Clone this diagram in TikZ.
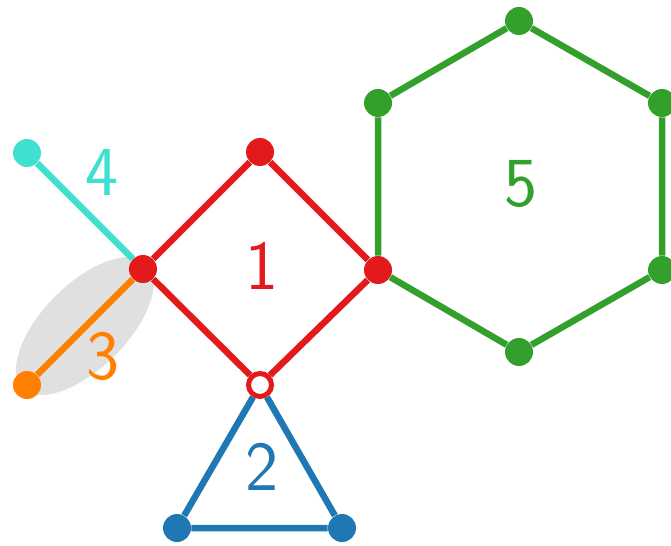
\documentclass[tikz,border=0pt]{standalone}
\usepackage{xcolor}
\usepackage{tikz}
\usetikzlibrary{positioning}

\definecolor{cred}{HTML}{E31A1C}
\definecolor{cblue}{HTML}{1F78B4}
\definecolor{cgreen}{HTML}{33A02C}
\definecolor{corange}{HTML}{FF7F00}
\definecolor{ccyan}{HTML}{40E0D0}
\definecolor{cshade}{HTML}{E0E0E0}

\begin{document}
\begin{tikzpicture}[
    x=0.02cm, y=-0.02cm,
    vtx/.style={circle, fill=#1, inner sep=0pt, minimum size=0.56cm},
    open/.style={circle, draw=#1, fill=white, line width=0.1cm, inner sep=0pt, minimum size=0.46cm},
    link/.style={draw=#1, line width=0.13cm},
    lbl/.style={text=#1, font=\fontsize{40}{48}\selectfont\sffamily}
]
\useasboundingbox (0,0) rectangle (671,546);

% Hyperedge 3 shade
\fill[cshade, rotate around={45:(85,326)}] (85,326) ellipse [x radius=1.76cm, y radius=0.84cm];

% Cycle 1 (square)
\node[vtx=cred] (top) at (260,152) {};
\node[vtx=cred] (left) at (143,269) {};
\node[vtx=cred] (right) at (378,270) {};
\node[open=cred] (bot) at (260,385) {};

% Cycle 2 (triangle)
\node[vtx=cblue] (tl) at (177,528) {};
\node[vtx=cblue] (tr) at (342,528) {};

% Pendant edges 3 and 4
\node[vtx=corange] (pend3) at (27,385) {};
\node[vtx=ccyan] (pend4) at (27,153) {};

% Cycle 5 (hexagon)
\node[vtx=cgreen] (h1) at (378,103) {};
\node[vtx=cgreen] (h2) at (519,21) {};
\node[vtx=cgreen] (h3) at (662,103) {};
\node[vtx=cgreen] (h4) at (662,270) {};
\node[vtx=cgreen] (h5) at (519,352) {};

% Edges
\draw[link=cred] (top) -- (right) -- (bot) -- (left) -- (top);
\draw[link=cblue] (bot) -- (tl) -- (tr) -- (bot);
\draw[link=corange] (left) -- (pend3);
\draw[link=ccyan] (pend4) -- (left);
\draw[link=cgreen] (right) -- (h1) -- (h2) -- (h3) -- (h4) -- (h5) -- (right);

% Labels
\node[lbl=cred] (n1) at (262,266) {1};
\node[lbl=cblue] (n2) at (262,467) {2};
\node[lbl=corange] (n3) at (103,356) {3};
\node[lbl=ccyan] (n4) at (102,172) {4};
\node[lbl=cgreen] (n5) at (521,184) {5};

\end{tikzpicture}
\end{document}
